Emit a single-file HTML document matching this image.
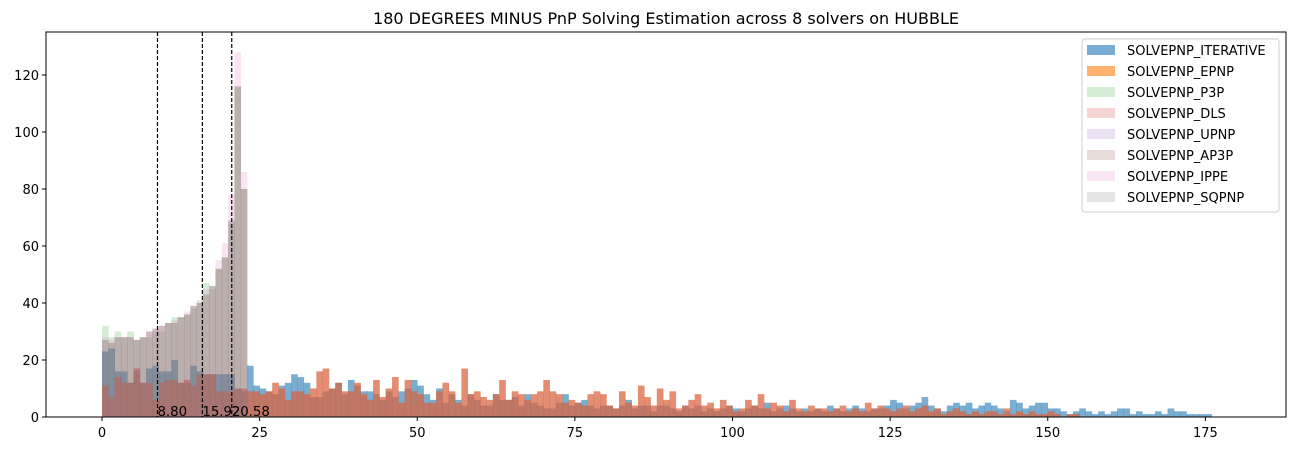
<!DOCTYPE html>
<html><head><meta charset="utf-8"><style>
body{margin:0;background:#fff;}
svg{display:block;font-family:"DejaVu Sans","Liberation Sans",sans-serif;}
</style></head><body>
<svg id="chart" width="1296" height="451" xmlns="http://www.w3.org/2000/svg">
<text x="666" y="24" text-anchor="middle" font-size="16">180 DEGREES MINUS PnP Solving Estimation across 8 solvers on HUBBLE</text>
<g id="bars"></g>
<g id="vlines"></g>
<rect x="46" y="32" width="1240" height="385" fill="none" stroke="#000" stroke-width="1"/>
<g id="axes"></g>
<g id="legend"></g>
</svg>
<script>
const xTicks=[0,25,50,75,100,125,150,175];
const yTicks=[0,20,40,60,80,100,120];
const seriesNames=["SOLVEPNP_ITERATIVE","SOLVEPNP_EPNP","SOLVEPNP_P3P","SOLVEPNP_DLS","SOLVEPNP_UPNP","SOLVEPNP_AP3P","SOLVEPNP_IPPE","SOLVEPNP_SQPNP"];
const iterative=[23,24,16,16,12,16,12,17,18,16,16,20,12,12,18,16,15,15,15,15,15,10,9,
18,11,10,9,8,11,12,15,14,12,7,7,9,10,12,8,13,11,9,9,8,6,9,7,9,10,13,11,
8,6,10,5,8,6,4,8,6,4,4,8,6,6,7,4,8,5,4,3,3,5,8,4,5,6,4,3,4,4,
3,4,6,3,4,4,2,4,4,3,2,4,3,4,2,3,2,3,4,3,2,3,4,3,5,2,3,4,3,2,
3,2,3,2,4,3,2,3,4,3,2,3,3,4,6,5,3,4,5,7,4,3,2,4,5,4,5,3,4,5,
4,3,2,6,5,3,4,5,5,3,3,2,1,2,3,2,1,2,1,2,3,3,1,2,1,1,2,1,3,2,2,1,1,1,1];
const epnp=[11,7,14,12,12,17,12,12,6,12,13,13,12,13,11,15,15,15,9,9,9,10,10,
9,9,8,9,12,10,6,9,9,8,10,16,17,10,12,9,9,12,8,6,13,7,10,14,5,13,9,8,
5,5,9,12,9,5,17,8,9,7,6,8,13,6,9,8,6,8,9,13,9,8,5,6,5,4,8,9,8,4,
3,9,5,4,11,7,4,10,6,9,3,4,6,8,4,5,3,6,4,2,3,6,4,8,3,5,4,2,6,3,
2,4,3,3,2,3,4,2,3,2,5,3,4,3,2,3,4,2,3,4,2,3,1,2,3,2,1,2,1,2,
2,1,3,1,2,1,2,1,1,2,1,0,1,1,0];
const dls=[11,7,14,12,12,17,12,12,6,12,13,13,12,13,11,15,15,15,9,9,9,10,10,
9,9,8,9,12,10,6,9,9,8,10,16,17,10,12,9,9,12,8,6,13,7,10,14,5,13,9,8,
5,5,9,12,9,5,17,8,9,7,6,8,13,6,9,8,6,8,9,13,9,8,5,6,5,4,8,9,8,4,
3,9,5,4,11,7,4,10,6,9,3,4,6,8,4,5,3,6,4,2,3,6,4,8,3,5,4,2,6,3,
2,4,3,3,2,3,4,2,3,2,5,3,4,3,2,3,4,2,3,4,2,3,1,2,3,2,1,2,1,2,
2,1,3,1,2,1,2,1,1,2,1,0,1,1,0];
const upnp=[11,7,14,12,12,17,12,12,6,12,13,13,12,13,11,15,15,15,9,9,9,10,10,
9,9,8,9,12,10,6,9,9,8,10,16,17,10,12,9,9,12,8,6,13,7,10,14,5,13,9,8,
5,5,9,12,9,5,17,8,9,7,6,8,13,6,9,8,6,8,9,13,9,8,5,6,5,4,8,9,8,4,
3,9,5,4,11,7,4,10,6,9,3,4,6,8,4,5,3,6,4,2,3,6,4,8,3,5,4,2,6,3,
2,4,3,3,2,3,4,2,3,2,5,3,4,3,2,3,4,2,3,4,2,3,1,2,3,2,1,2,1,2,
2,1,3,1,2,1,2,1,1,2,1,0,1,1,0];
const p3p=[32,28,30,28,30,27,28,28,30,30,33,35,35,36,38,40,47,46,52,56,68,116,80];
const ap3p=[27,26,28,28,28,27,28,30,31,32,33,33,35,36,39,40,43,45,52,56,69,116,80];
const ippe=[28,27,28,28,28,27,28,30,31,32,33,34,35,37,39,40,45,46,55,61,78,128,86];
const sqpnp=[27,26,28,28,28,27,28,30,31,32,33,33,35,36,39,41,43,46,52,56,69,116,80];
const medians=[8.80,15.92,20.58];
const medianLabels=["8.80","15.92","20.58"];

const allSeries=[iterative,epnp,p3p,dls,upnp,ap3p,ippe,sqpnp];
const colors=["#1f77b4","#ff7f0e","#2ca02c","#d62728","#9467bd","#8c564b","#e377c2","#7f7f7f"];
const alphas=[0.6,0.6,0.2,0.2,0.2,0.2,0.2,0.2];
const NS="http://www.w3.org/2000/svg";
const binW=1;
function xs(v){return 102+v*6.305;}
function ys(v){return 417-v*2.85;}
function mk(tag,attrs,parent){const e=document.createElementNS(NS,tag);for(const k in attrs)e.setAttribute(k,attrs[k]);parent.appendChild(e);return e;}
const bars=document.getElementById('bars');
allSeries.forEach((s,si)=>{
  const g=mk('g',{fill:colors[si],'fill-opacity':alphas[si]},bars);
  
  
  s.forEach((v,i)=>{
    if(v<=0)return;
    const x0=xs(i*binW),x1=xs((i+1)*binW);
    const r=mk('rect',{x:x0,y:ys(v),width:x1-x0+0.3,height:ys(0)-ys(v)},g);
    
    
  });
});
const vl=document.getElementById('vlines');
medians.forEach((m,i)=>{
  const l=mk('line',{x1:xs(m),x2:xs(m),y1:32,y2:417,stroke:'#000','stroke-width':1.2,'stroke-dasharray':'4,2'},vl);
  
  
  const t=mk('text',{x:xs(m),y:416,'font-size':13.3},vl);
  t.textContent=medianLabels[i];
  
  
});
const ax=document.getElementById('axes');
xTicks.forEach(v=>{
  const l=mk('line',{x1:xs(v),x2:xs(v),y1:417,y2:421,stroke:'#000'},ax);
  
  
  const t=mk('text',{x:xs(v),y:437,'font-size':13,'text-anchor':'middle'},ax);
  t.textContent=v;
  
  
});
yTicks.forEach(v=>{
  const l=mk('line',{x1:42,x2:46,y1:ys(v),y2:ys(v),stroke:'#000'},ax);
  
  
  const t=mk('text',{x:39,y:ys(v)+5,'font-size':13,'text-anchor':'end'},ax);
  t.textContent=v;
  
  
});
const lg=document.getElementById('legend');
const box=mk('rect',{x:1082,y:39,width:197,height:173,rx:3,fill:'#fff','fill-opacity':0.8,stroke:'#ccc'},lg);


seriesNames.forEach((n,i)=>{
  const y=50+i*21;
  const sw=mk('rect',{x:1087,y:y-5,width:28,height:10,fill:colors[i],'fill-opacity':alphas[i]},lg);
  
  
  const t=mk('text',{x:1127,y:y+5,'font-size':13},lg);
  t.textContent=n;
  
  
});
</script>
</body></html>
